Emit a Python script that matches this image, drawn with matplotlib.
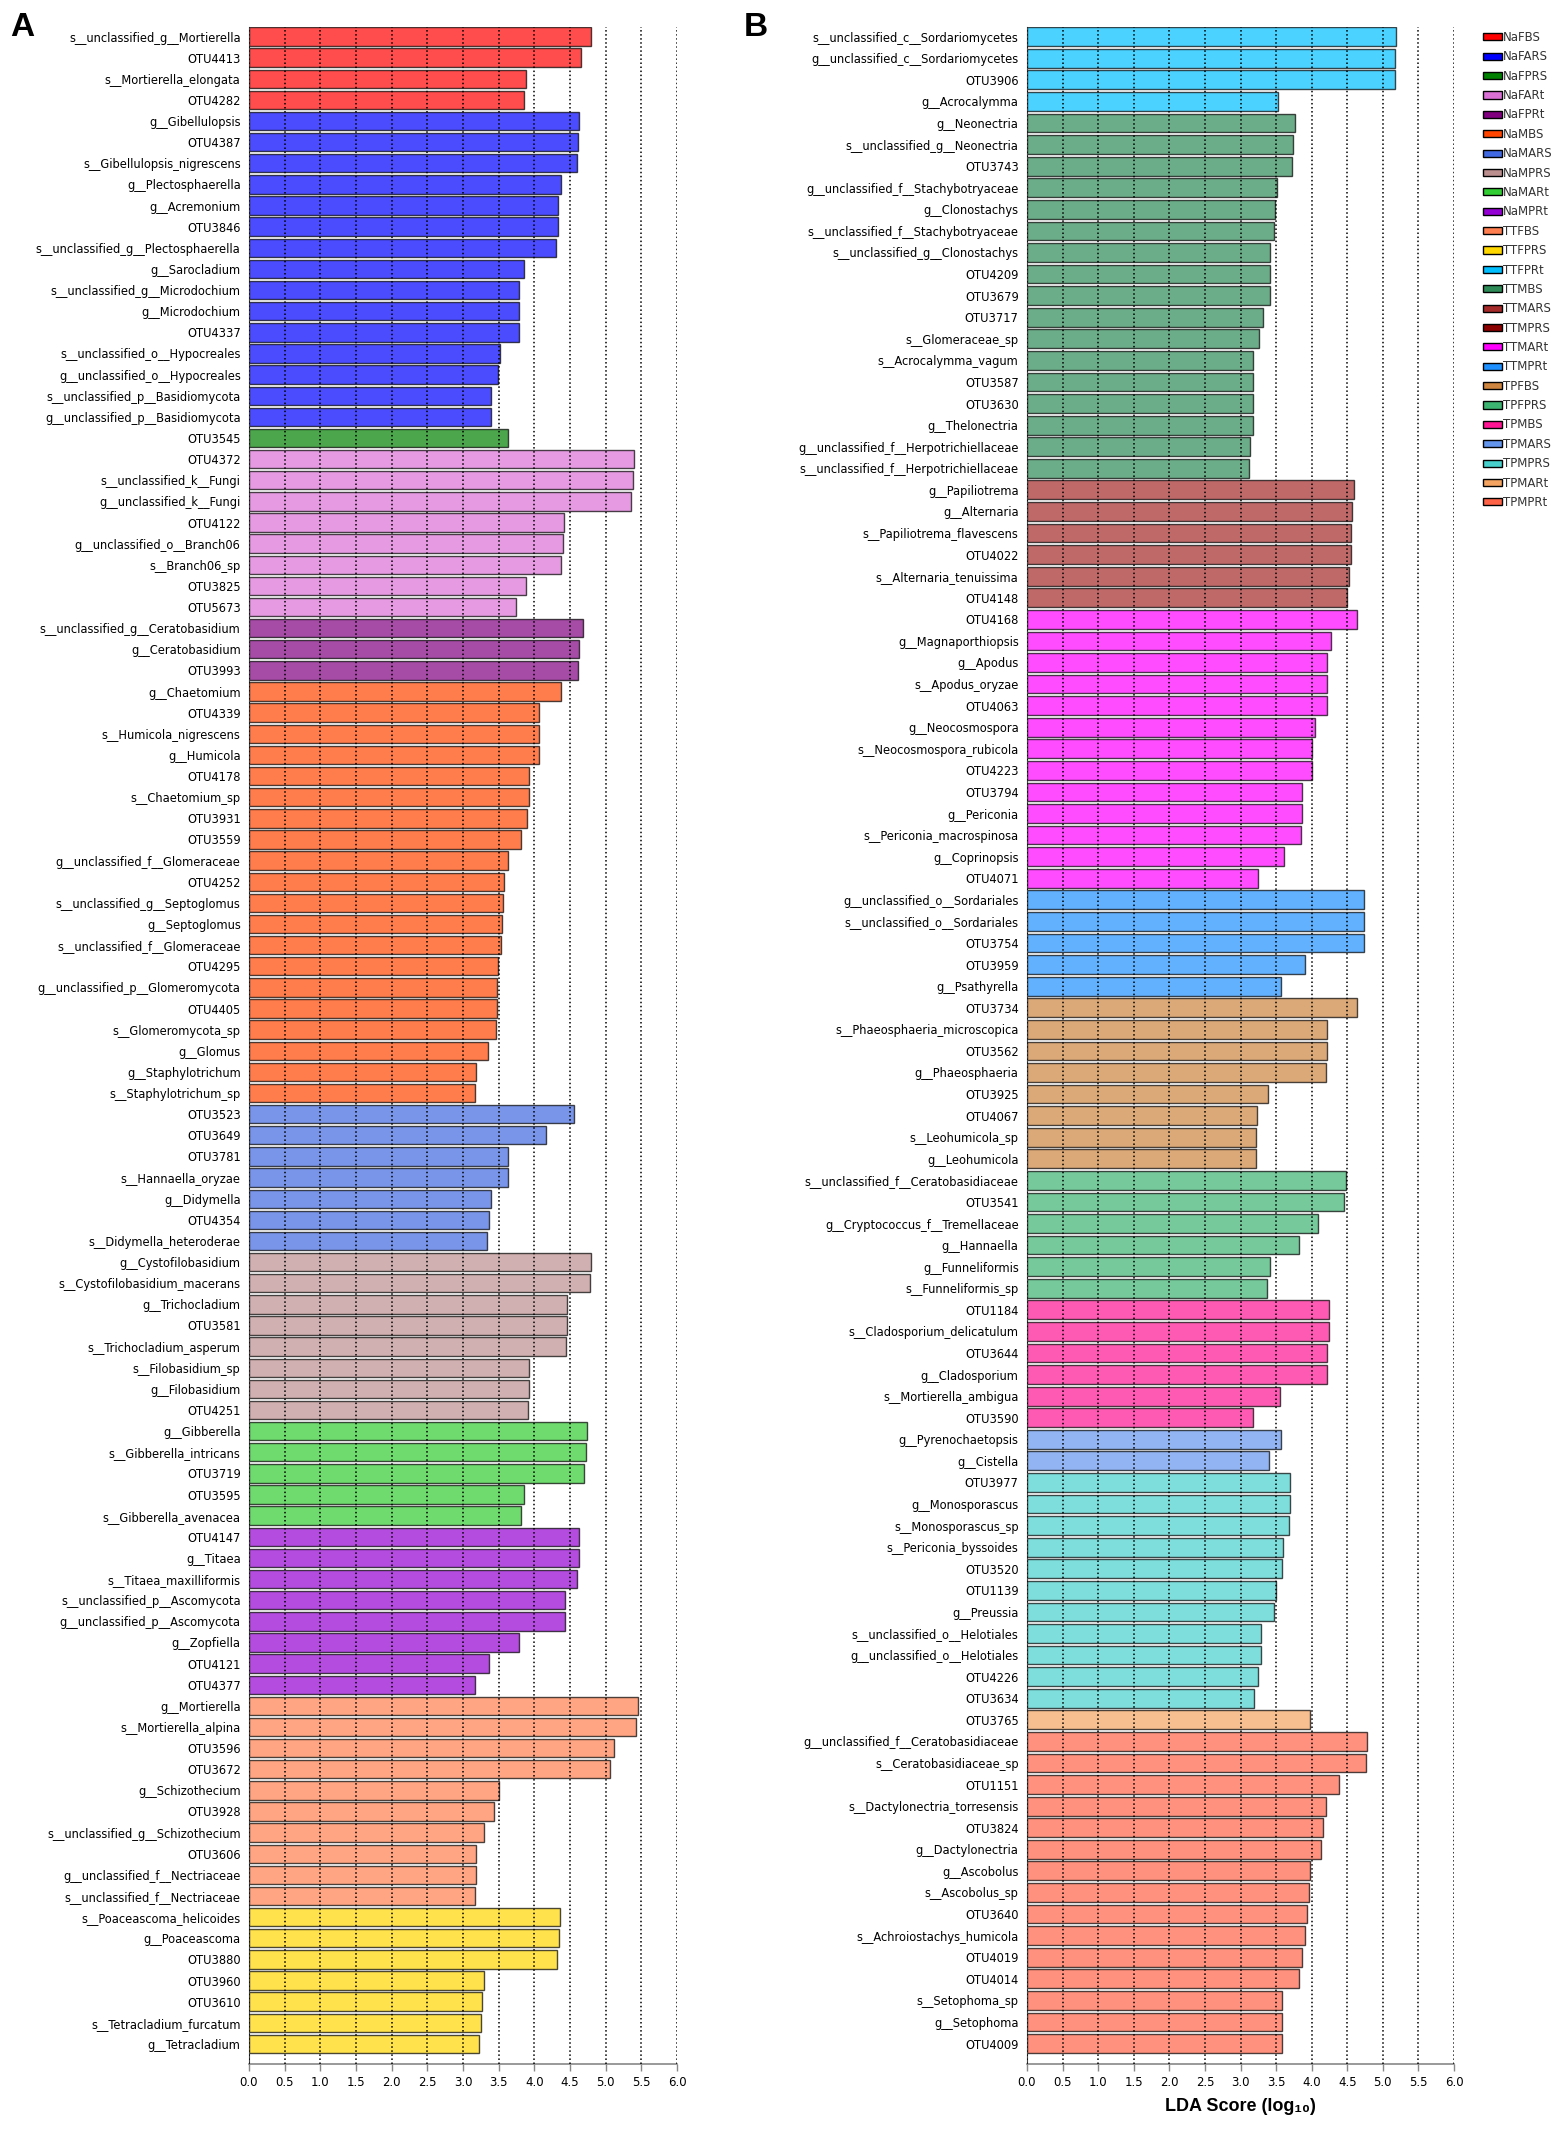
import os
import matplotlib
matplotlib.use("Agg")
import matplotlib.pyplot as plt
from matplotlib import font_manager as fm
from matplotlib.patches import Patch

# ---------------- data ----------------
legend_classes = ["NaFBS", "NaFARS", "NaFPRS", "NaFARt", "NaFPRt", "NaMBS", "NaMARS", "NaMPRS",
                  "NaMARt", "NaMPRt", "TTFBS", "TTFPRS", "TTFPRt", "TTMBS", "TTMARS", "TTMPRS",
                  "TTMARt", "TTMPRt", "TPFBS", "TPFPRS", "TPMBS", "TPMARS", "TPMPRS", "TPMARt", "TPMPRt"]
legend_colors = ["red", "blue", "green", "orchid", "purple", "orangered", "royalblue", "rosybrown",
                 "limegreen", "darkviolet", "coral", "gold", "deepskyblue", "seagreen", "brown", "darkred",
                 "magenta", "dodgerblue", "peru", "mediumseagreen", "deeppink", "cornflowerblue",
                 "mediumturquoise", "sandybrown", "tomato"]

a_labels = ["s__unclassified_g__Mortierella", "OTU4413", "s__Mortierella_elongata", "OTU4282",
            "g__Gibellulopsis", "OTU4387", "s__Gibellulopsis_nigrescens", "g__Plectosphaerella",
            "g__Acremonium", "OTU3846", "s__unclassified_g__Plectosphaerella", "g__Sarocladium",
            "s__unclassified_g__Microdochium", "g__Microdochium", "OTU4337", "s__unclassified_o__Hypocreales",
            "g__unclassified_o__Hypocreales", "s__unclassified_p__Basidiomycota", "g__unclassified_p__Basidiomycota",
            "OTU3545",
            "OTU4372", "s__unclassified_k__Fungi", "g__unclassified_k__Fungi", "OTU4122",
            "g__unclassified_o__Branch06", "s__Branch06_sp", "OTU3825", "OTU5673",
            "s__unclassified_g__Ceratobasidium", "g__Ceratobasidium", "OTU3993",
            "g__Chaetomium", "OTU4339", "s__Humicola_nigrescens", "g__Humicola", "OTU4178", "s__Chaetomium_sp",
            "OTU3931", "OTU3559", "g__unclassified_f__Glomeraceae", "OTU4252", "s__unclassified_g__Septoglomus",
            "g__Septoglomus", "s__unclassified_f__Glomeraceae", "OTU4295", "g__unclassified_p__Glomeromycota",
            "OTU4405", "s__Glomeromycota_sp", "g__Glomus", "g__Staphylotrichum", "s__Staphylotrichum_sp",
            "OTU3523", "OTU3649", "OTU3781", "s__Hannaella_oryzae", "g__Didymella", "OTU4354",
            "s__Didymella_heteroderae",
            "g__Cystofilobasidium", "s__Cystofilobasidium_macerans", "g__Trichocladium", "OTU3581",
            "s__Trichocladium_asperum", "s__Filobasidium_sp", "g__Filobasidium", "OTU4251",
            "g__Gibberella", "s__Gibberella_intricans", "OTU3719", "OTU3595", "s__Gibberella_avenacea",
            "OTU4147", "g__Titaea", "s__Titaea_maxilliformis", "s__unclassified_p__Ascomycota",
            "g__unclassified_p__Ascomycota", "g__Zopfiella", "OTU4121", "OTU4377",
            "g__Mortierella", "s__Mortierella_alpina", "OTU3596", "OTU3672", "g__Schizothecium", "OTU3928",
            "s__unclassified_g__Schizothecium", "OTU3606", "g__unclassified_f__Nectriaceae",
            "s__unclassified_f__Nectriaceae",
            "s__Poaceascoma_helicoides", "g__Poaceascoma", "OTU3880", "OTU3960", "OTU3610",
            "s__Tetracladium_furcatum", "g__Tetracladium"]
a_values = [4.80, 4.66, 3.88, 3.85,
            4.63, 4.61, 4.60, 4.38, 4.33, 4.33, 4.31, 3.86, 3.79, 3.79, 3.78, 3.52, 3.49, 3.39, 3.39,
            3.63,
            5.40, 5.39, 5.35, 4.41, 4.40, 4.38, 3.88, 3.74,
            4.68, 4.62, 4.61,
            4.38, 4.07, 4.06, 4.06, 3.93, 3.92, 3.90, 3.81, 3.63, 3.57, 3.56, 3.54, 3.53, 3.49, 3.48, 3.47,
            3.46, 3.35, 3.18, 3.17,
            4.56, 4.16, 3.63, 3.63, 3.39, 3.37, 3.34,
            4.80, 4.78, 4.46, 4.46, 4.45, 3.93, 3.92, 3.91,
            4.74, 4.72, 4.69, 3.85, 3.82,
            4.63, 4.63, 4.60, 4.43, 4.43, 3.79, 3.36, 3.17,
            5.46, 5.42, 5.11, 5.06, 3.50, 3.43, 3.29, 3.18, 3.18, 3.17,
            4.36, 4.35, 4.32, 3.29, 3.26, 3.25, 3.22]
a_classes = (["NaFBS"] * 4 + ["NaFARS"] * 15 + ["NaFPRS"] * 1 + ["NaFARt"] * 8 + ["NaFPRt"] * 3 +
             ["NaMBS"] * 20 + ["NaMARS"] * 7 + ["NaMPRS"] * 8 + ["NaMARt"] * 5 + ["NaMPRt"] * 8 +
             ["TTFBS"] * 10 + ["TTFPRS"] * 7)

b_labels = ["s__unclassified_c__Sordariomycetes", "g__unclassified_c__Sordariomycetes", "OTU3906", "g__Acrocalymma",
            "g__Neonectria", "s__unclassified_g__Neonectria", "OTU3743", "g__unclassified_f__Stachybotryaceae",
            "g__Clonostachys", "s__unclassified_f__Stachybotryaceae", "s__unclassified_g__Clonostachys",
            "OTU4209", "OTU3679", "OTU3717", "s__Glomeraceae_sp", "s__Acrocalymma_vagum", "OTU3587", "OTU3630",
            "g__Thelonectria", "g__unclassified_f__Herpotrichiellaceae", "s__unclassified_f__Herpotrichiellaceae",
            "g__Papiliotrema", "g__Alternaria", "s__Papiliotrema_flavescens", "OTU4022",
            "s__Alternaria_tenuissima", "OTU4148",
            "OTU4168", "g__Magnaporthiopsis", "g__Apodus", "s__Apodus_oryzae", "OTU4063", "g__Neocosmospora",
            "s__Neocosmospora_rubicola", "OTU4223", "OTU3794", "g__Periconia", "s__Periconia_macrospinosa",
            "g__Coprinopsis", "OTU4071",
            "g__unclassified_o__Sordariales", "s__unclassified_o__Sordariales", "OTU3754", "OTU3959",
            "g__Psathyrella",
            "OTU3734", "s__Phaeosphaeria_microscopica", "OTU3562", "g__Phaeosphaeria", "OTU3925", "OTU4067",
            "s__Leohumicola_sp", "g__Leohumicola",
            "s__unclassified_f__Ceratobasidiaceae", "OTU3541", "g__Cryptococcus_f__Tremellaceae", "g__Hannaella",
            "g__Funneliformis", "s__Funneliformis_sp",
            "OTU1184", "s__Cladosporium_delicatulum", "OTU3644", "g__Cladosporium", "s__Mortierella_ambigua",
            "OTU3590",
            "g__Pyrenochaetopsis", "g__Cistella",
            "OTU3977", "g__Monosporascus", "s__Monosporascus_sp", "s__Periconia_byssoides", "OTU3520",
            "OTU1139", "g__Preussia", "s__unclassified_o__Helotiales", "g__unclassified_o__Helotiales",
            "OTU4226", "OTU3634",
            "OTU3765",
            "g__unclassified_f__Ceratobasidiaceae", "s__Ceratobasidiaceae_sp", "OTU1151",
            "s__Dactylonectria_torresensis", "OTU3824", "g__Dactylonectria", "g__Ascobolus", "s__Ascobolus_sp",
            "OTU3640", "s__Achroiostachys_humicola", "OTU4019", "OTU4014", "s__Setophoma_sp", "g__Setophoma",
            "OTU4009"]
b_values = [5.18, 5.17, 5.17, 3.53,
            3.76, 3.74, 3.73, 3.51, 3.48, 3.47, 3.42, 3.42, 3.41, 3.31, 3.26, 3.18, 3.18, 3.17, 3.17, 3.14, 3.12,
            4.59, 4.56, 4.55, 4.55, 4.52, 4.49,
            4.64, 4.27, 4.22, 4.21, 4.21, 4.04, 4.00, 4.00, 3.87, 3.86, 3.85, 3.61, 3.24,
            4.74, 4.74, 4.73, 3.90, 3.57,
            4.64, 4.22, 4.21, 4.20, 3.39, 3.23, 3.22, 3.22,
            4.48, 4.46, 4.09, 3.82, 3.41, 3.37,
            4.24, 4.24, 4.22, 4.21, 3.56, 3.17,
            3.57, 3.40,
            3.70, 3.69, 3.68, 3.60, 3.59, 3.50, 3.47, 3.29, 3.29, 3.24, 3.19,
            3.98,
            4.78, 4.76, 4.39, 4.20, 4.16, 4.13, 3.97, 3.96, 3.94, 3.90, 3.87, 3.82, 3.59, 3.58, 3.58]
b_classes = (["TTFPRt"] * 4 + ["TTMBS"] * 17 + ["TTMARS"] * 6 + ["TTMARt"] * 13 + ["TTMPRt"] * 5 +
             ["TPFBS"] * 8 + ["TPFPRS"] * 6 + ["TPMBS"] * 6 + ["TPMARS"] * 2 + ["TPMPRS"] * 11 +
             ["TPMARt"] * 1 + ["TPMPRt"] * 15)

x_ticks = [0.0, 0.5, 1.0, 1.5, 2.0, 2.5, 3.0, 3.5, 4.0, 4.5, 5.0, 5.5, 6.0]
x_ticklabels = ["0.0", "0.5", "1.0", "1.5", "2.0", "2.5", "3.0", "3.5", "4.0", "4.5", "5.0", "5.5", "6.0"]

color_of = dict(zip(legend_classes, legend_colors))


# ---------------- fonts ----------------
def pick_label_font():
    bad = ("bold", "italic", "oblique", "light", "thin", "black", "medium", "semi", "extra", "heavy")
    cands = []
    for f in fm.fontManager.ttflist:
        base = os.path.basename(f.fname).lower()
        if ("condensed" in base or "narrow" in base) and not any(k in base for k in bad):
            cands.append((base, f.fname))
    for key in ("dejavusans", "liberationsans", "roboto", "notosans", "opensans", "lato", "inter"):
        for base, path in cands:
            if base.startswith(key):
                return fm.FontProperties(fname=path)
    if cands:
        return fm.FontProperties(fname=cands[0][1])
    names = {f.name for f in fm.fontManager.ttflist}
    for fam in ("Roboto", "Liberation Sans", "DejaVu Sans"):
        if fam in names:
            return fm.FontProperties(family=fam)
    return fm.FontProperties(family="DejaVu Sans")


label_fp = pick_label_font()

W, H = 1562, 2129
fig = plt.figure(figsize=(W / 100, H / 100), dpi=100)
fig.patch.set_facecolor("white")
renderer = fig.canvas.get_renderer()

# fit label size to the reference width of one long label
probe = fig.text(0, 0, "s__unclassified_c__Sordariomycetes", fontproperties=label_fp, fontsize=10)
pw = probe.get_window_extent(renderer).width
probe.remove()
label_size = 10 * 207.0 / pw
tick_size = label_size * 1.02

top_px, bottom_px = 27, 2064


def panel(left_px, right_px, labels, values, classes):
    ax = fig.add_axes([left_px / W, 1 - bottom_px / H, (right_px - left_px) / W, (bottom_px - top_px) / H])
    n = len(labels)
    ypos = list(range(n))
    ax.barh(ypos, values, height=0.87, color=[color_of[c] for c in classes], alpha=0.7,
            edgecolor="black", linewidth=1.0, zorder=1)
    ax.set_xlim(0, 6.0)
    ax.set_ylim(n - 0.05, -0.45)
    ax.set_yticks(ypos)
    ax.set_yticklabels(labels, fontproperties=label_fp, fontsize=label_size)
    ax.set_xticks(x_ticks)
    ax.set_xticklabels(x_ticklabels, fontproperties=label_fp, fontsize=tick_size)
    ax.tick_params(axis="y", length=0, pad=6)
    ax.tick_params(axis="x", length=5, width=1, color="#888888", pad=4)
    ax.grid(axis="x", linestyle=":", color="black", linewidth=1.1)
    ax.grid(axis="y", visible=False)
    ax.set_axisbelow(False)
    for s in ("top", "right"):
        ax.spines[s].set_visible(False)
    ax.spines["left"].set_color("#444444")
    ax.spines["bottom"].set_color("#888888")
    ax.spines["bottom"].set_linewidth(1.2)
    return ax


ax_a = panel(249, 677, a_labels, a_values, a_classes)
ax_b = panel(1027, 1454, b_labels, b_values, b_classes)
ax_b.set_xlabel("LDA Score (log₁₀)", family=["Liberation Sans", "DejaVu Sans"], fontweight="bold",
                fontsize=13, labelpad=6)

fig.text(10 / W, 1 - 12 / H, "A", family=["Liberation Sans", "DejaVu Sans"], fontweight="bold",
         fontsize=24, ha="left", va="top")
fig.text(744 / W, 1 - 12 / H, "B", family=["Liberation Sans", "DejaVu Sans"], fontweight="bold",
         fontsize=24, ha="left", va="top")

handles = [Patch(facecolor=c, edgecolor="black", linewidth=1.0) for c in legend_colors]
leg = fig.legend(handles, legend_classes, loc="upper left", bbox_to_anchor=(1483 / W, 1 - 31 / H),
                 frameon=False, handlelength=1.6, handleheight=0.55, handletextpad=0.12,
                 labelspacing=0.54, borderpad=0, borderaxespad=0,
                 prop={"family": "DejaVu Sans", "size": 8.5})
for t in leg.get_texts():
    t.set_color("#333333")

fig.savefig("out.png", dpi=100, facecolor="white")
